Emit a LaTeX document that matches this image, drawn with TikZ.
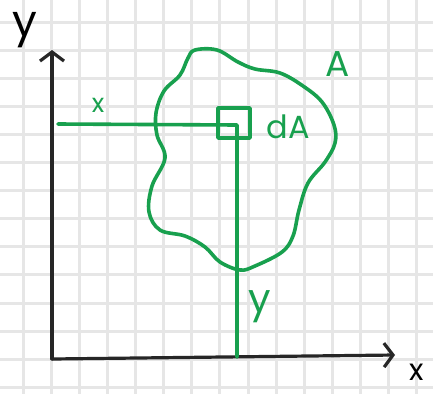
\documentclass[tikz,border=0pt]{standalone}
\usepackage{fontspec}
\setmainfont{Poppins}
\usepackage{xcolor}
\usetikzlibrary{arrows.meta,positioning}
\definecolor{pen}{RGB}{24,160,78}
\definecolor{paper}{RGB}{230,230,230}

\begin{document}
\begin{tikzpicture}[
  x=1pt, y=-1pt,
  gridline/.style={draw=paper, line width=3pt},
  axis/.style={draw=black!85, line width=3.2pt, line cap=round,
               -{Straight Barb[length=9pt, width=24pt, line width=3.2pt]}},
  curve/.style={draw=pen, line width=3.6pt, line cap=round, line join=round},
  hand/.style={inner sep=0pt, font=\fontsize{#1}{#1}\selectfont},
  lbl/.style={hand=#1, text=pen},
]
\useasboundingbox (0,0) rectangle (433,394);
\fill[white] (0,0) rectangle (433,394);
% squared paper
\foreach \i in {0,...,14}
  \draw[gridline] ({23+28.14*\i},0) -- ++(0,394);
\foreach \j in {0,...,13}
  \draw[gridline] (0,{22+28.1*\j}) -- ++(433,0);

% axes
\coordinate (origin) at (52,359);
\coordinate (ytip) at (52,50);
\coordinate (xtip) at (395,355);
\draw[axis] (origin) -- (ytip);
\draw[axis] (origin) -- (xtip);
\node[hand=44] (ylab) at (25,30) {y};
\node[hand=30] (xlab) at (417,372) {x};

% region A
\draw[curve] plot[smooth cycle, tension=0.6] coordinates {
  (195,50) (217,50) (238,62) (255,69) (280,73) (303,86) (322,102)
  (334,125) (335,143) (325,162) (308,183) (299,210) (293,236)
  (282,252) (255,266) (240,270) (220,262) (205,247) (185,236)
  (160,230) (149,212) (152,186) (165,158) (157,135) (156,113)
  (164,91) (180,75) (188,58)};
\node[lbl=36] (alab) at (338,64) {A};

% element dA
\draw[curve] (218,108) rectangle (250,138);
\coordinate (elem) at (237,125);
\coordinate (xstart) at (58,124);
\coordinate (yfoot) at (237,357);
\draw[curve] (xstart) -- (elem) -- (yfoot);
\node[lbl=32] (dalab) at (288,127) {dA};
\node[lbl=26] (xdist) at (98,105) {x};
\node[lbl=40] (ydist) at (260,307) {y};
\end{tikzpicture}
\end{document}
